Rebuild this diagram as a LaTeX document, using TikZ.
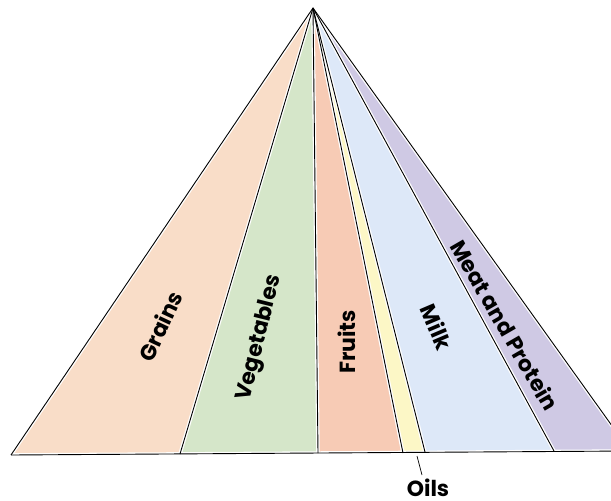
\documentclass[tikz,border=0pt]{standalone}
\usepackage{fontspec}
\setmainfont{Poppins}
\usepackage{tikz}
\usetikzlibrary{positioning}

\definecolor{grainsfill}{HTML}{F9DDC8}
\definecolor{vegfill}{HTML}{D5E6C9}
\definecolor{fruitsfill}{HTML}{F7CBB5}
\definecolor{oilsfill}{HTML}{FCF7C6}
\definecolor{milkfill}{HTML}{DDE8F8}
\definecolor{meatfill}{HTML}{CFC9E4}

\begin{document}
\begin{tikzpicture}[
    x=1bp, y=-1bp,                                   % pixel-like units, y pointing down
    gap/.style={white, line width=3.5bp},            % White gap along every line
    edge/.style={black, line width=0.9bp},           % Thin black line on top of the gap
    foodlabel/.style={font=\bfseries\fontsize{22}{22}\selectfont, inner sep=0pt}, % Group names
    ]

    \useasboundingbox (0,0) rectangle (611,501);
    \clip (0,0) rectangle (611,501);

    % Apex and the points along the base
    \coordinate (apex) at (313,8);
    \coordinate (b0) at (11,455);
    \coordinate (b1) at (180,454);
    \coordinate (b2) at (318,453);
    \coordinate (b3) at (403,453);
    \coordinate (b4) at (425,452);
    \coordinate (b5) at (554,451);
    \coordinate (b6) at (630,451);

    % Coloured wedges
    \fill[grainsfill] (apex) -- (b0) -- (b1) -- cycle;
    \fill[vegfill] (apex) -- (b1) -- (b2) -- cycle;
    \fill[fruitsfill] (apex) -- (b2) -- (b3) -- cycle;
    \fill[oilsfill] (apex) -- (b3) -- (b4) -- cycle;
    \fill[milkfill] (apex) -- (b4) -- (b5) -- cycle;
    \fill[meatfill] (apex) -- (b5) -- (b6) -- cycle;

    % White gaps, then the black lines
    \foreach \b in {b0,b1,b2,b3,b4,b5,b6}
        \draw[gap] (apex) -- (\b);
    \draw[gap] (b0) -- (b6);
    \foreach \b in {b0,b1,b2,b3,b4,b5,b6}
        \draw[edge] (apex) -- (\b);
    \draw[edge] (b0) -- (b6);

    % Names of the groups
    \node[foodlabel, rotate=65] (grains) at (160,326) {Grains};
    \node[foodlabel, rotate=76] (veg) at (260,338) {Vegetables};
    \node[foodlabel, rotate=90] (fruits) at (347,342) {Fruits};
    \node[foodlabel, rotate=-67] (milk) at (437,327) {Milk};
    \node[foodlabel, rotate=-60] (meat) at (505,325) {Meat and Protein};

    % Oils is named below the base
    \node[foodlabel] (oils) at (428,488) {Oils};
    \coordinate (oilstop) at (417,456);
    \coordinate (oilsend) at (422,475);
    \draw[black, line width=0.7bp] (oilstop) -- (oilsend);

\end{tikzpicture}
\end{document}
